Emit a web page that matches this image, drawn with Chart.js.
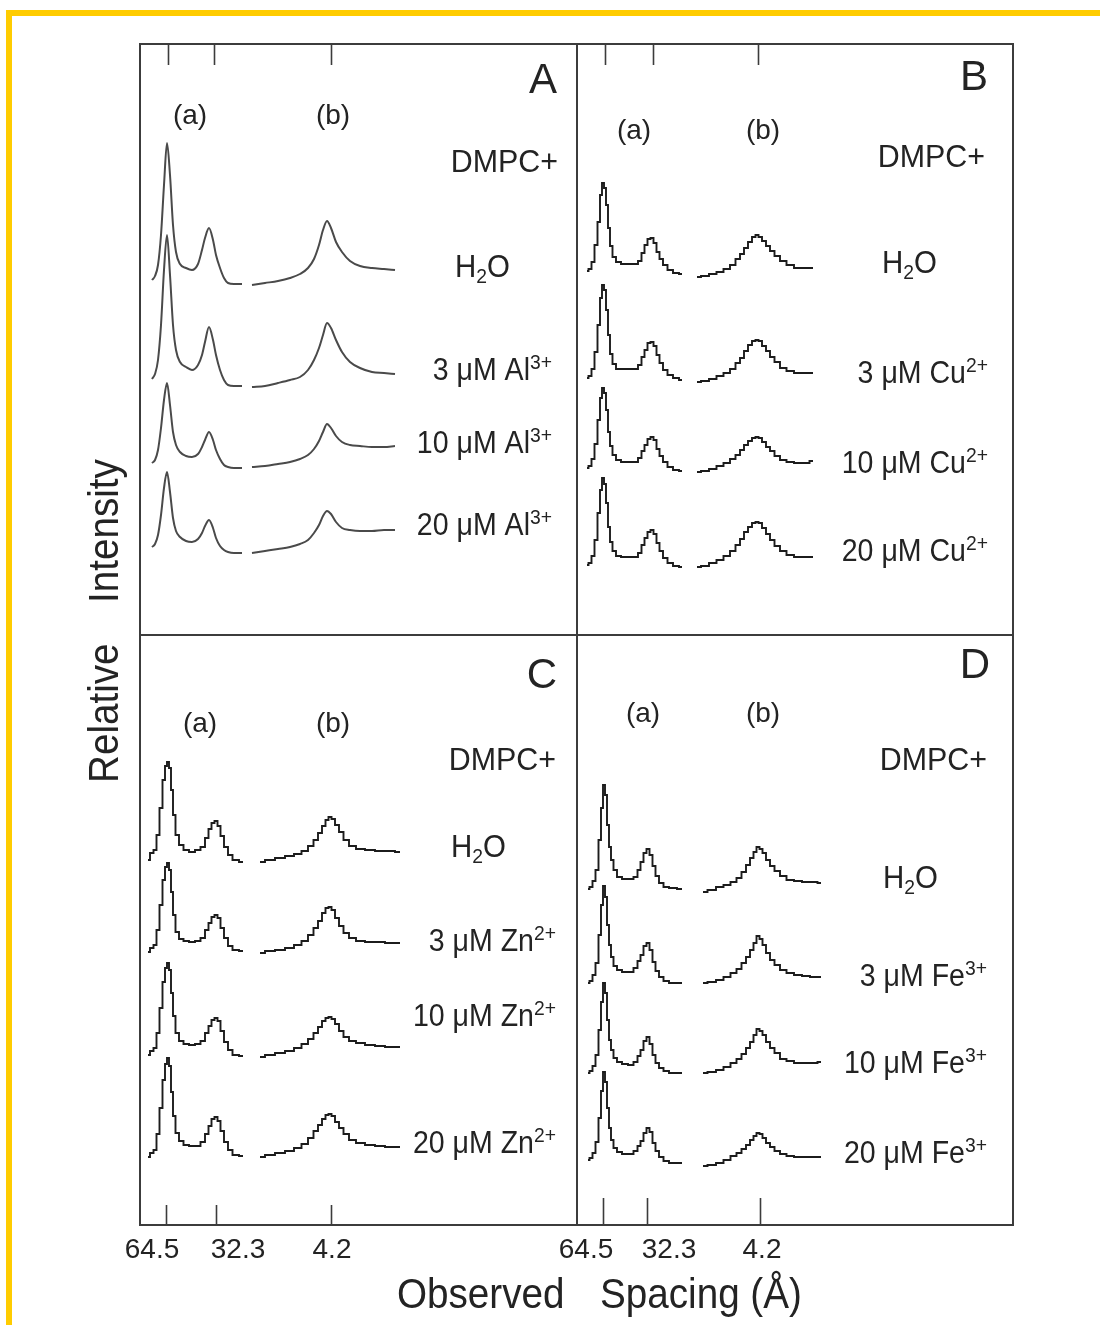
<!DOCTYPE html>
<html>
<head>
<meta charset="utf-8">
<title>DMPC + metal ions, observed spacing</title>
<script src="https://cdn.jsdelivr.net/npm/chart.js@4.4.1/dist/chart.umd.min.js"></script>
<style>
  html, body { margin: 0; background: #fff; }
  canvas { display: block; }
</style>
</head>
<body>
<canvas id="fig" width="1100" height="1325"></canvas>
<script>
// detector channel (x) and counts (y); null = gap between SAXS and WAXS part
const xA = [12, 15, 18, 21, 24, 27, 30, 33, 36, 40, 46, 52, 58, 62, 65, 69, 73, 76, 80, 84, 88, 94, 102,
  107,
  112, 125, 138, 150, 160, 168, 174, 179, 183, 187, 191, 196, 202, 210, 220, 232, 244, 255];
const yA_h2o = [355, 359, 370, 400, 450, 492, 460, 410, 383, 371, 367, 365, 371, 385, 397, 407, 395, 380, 367, 357, 352, 351, 351,
  null,
  350, 352, 354, 357, 361, 367, 376, 390, 405, 414, 407, 393, 383, 374, 369, 367, 366, 365];
const yA_3 = [256, 261, 275, 310, 365, 400, 360, 310, 285, 273, 268, 265, 270, 280, 293, 308, 295, 280, 265, 255, 250, 249, 249,
  null,
  248, 249, 252, 255, 258, 265, 275, 287, 300, 312, 307, 295, 283, 273, 267, 263, 262, 261];
const yA_10 = [172, 175, 185, 207, 235, 252, 230, 203, 190, 183, 179, 178, 181, 188, 195, 203, 195, 185, 176, 170, 168, 167, 167,
  null,
  168, 169, 171, 173, 176, 180, 186, 194, 203, 211, 207, 199, 193, 190, 189, 188, 188, 189];
const yA_20 = [88, 91, 100, 120, 147, 163, 143, 117, 104, 98, 94, 93, 96, 102, 109, 115, 107, 97, 89, 85, 83, 82, 82,
  null,
  82, 84, 86, 88, 91, 95, 102, 110, 119, 124, 121, 113, 107, 105, 104, 104, 105, 105];

const xB = [10, 13, 16, 19, 22, 24, 26, 28, 30, 32, 34, 37, 41, 47, 53, 59, 63, 66, 69, 72, 75, 78, 81, 84, 88, 93, 99, 105,
  112,
  120, 128, 136, 143, 150, 156, 161, 165, 169, 173, 177, 180, 183, 187, 191, 195, 200, 206, 213, 221, 229, 236];
const yB_h2o = [364, 366, 373, 390, 413, 440, 452, 447, 430, 407, 389, 378, 373, 371, 371, 371, 374, 382, 390, 396, 397, 392, 383, 376, 370, 365, 362, 361,
  null,
  358, 359, 361, 363, 366, 370, 376, 381, 387, 393, 398, 400, 398, 394, 389, 384, 379, 374, 370, 367, 367, 367];
const yB_3 = [257, 259, 266, 283, 310, 337, 350, 345, 325, 300, 281, 271, 266, 266, 266, 266, 270, 278, 285, 292, 293, 289, 280, 272, 265, 260, 257, 255,
  null,
  253, 254, 256, 259, 262, 266, 272, 277, 284, 290, 294, 295, 294, 289, 284, 278, 273, 267, 264, 262, 262, 262];
const yB_10 = [167, 169, 176, 191, 215, 237, 247, 242, 225, 203, 189, 180, 175, 173, 173, 173, 177, 184, 190, 196, 198, 195, 186, 179, 173, 168, 165, 164,
  null,
  163, 164, 166, 169, 172, 176, 180, 185, 190, 194, 197, 198, 197, 193, 188, 184, 179, 175, 173, 172, 172, 174];
const yB_20 = [70, 72, 79, 95, 122, 145, 157, 151, 132, 108, 93, 84, 79, 78, 78, 78, 82, 90, 97, 103, 105, 101, 92, 84, 77, 72, 69, 68,
  null,
  68, 69, 72, 75, 79, 84, 90, 96, 103, 108, 112, 113, 112, 107, 101, 95, 89, 84, 80, 78, 78, 78];

const xC = [8, 12, 15, 18, 21, 24, 26, 28, 30, 32, 34, 37, 41, 46, 52, 58, 63, 67, 70, 73, 76, 79, 82, 86, 90, 95, 103,
  111,
  120, 130, 140, 150, 158, 165, 171, 176, 180, 184, 187, 190, 193, 197, 201, 206, 212, 220, 230, 240, 250, 260];
const yC_h2o = [365, 372, 375, 390, 417, 445, 459, 463, 457, 435, 410, 390, 380, 375, 373, 375, 378, 387, 396, 402, 404, 399, 389, 378, 370, 365, 363,
  null,
  363, 365, 367, 369, 371, 374, 379, 385, 392, 399, 405, 408, 406, 400, 393, 385, 379, 376, 375, 374, 374, 373];
const yC_3 = [273, 277, 280, 295, 320, 345, 358, 362, 355, 333, 310, 293, 286, 284, 283, 284, 287, 295, 302, 308, 310, 307, 297, 287, 279, 275, 274,
  null,
  272, 274, 275, 277, 280, 284, 290, 297, 304, 312, 317, 318, 315, 307, 299, 292, 287, 284, 283, 283, 282, 282];
const yC_10 = [170, 174, 177, 192, 217, 243, 257, 262, 255, 232, 209, 192, 184, 181, 180, 181, 184, 192, 199, 205, 207, 204, 194, 183, 175, 170, 169,
  null,
  168, 170, 172, 174, 177, 181, 186, 192, 198, 204, 207, 208, 206, 201, 194, 188, 184, 182, 180, 179, 178, 178];
const yC_20 = [68, 72, 75, 91, 117, 145, 161, 167, 159, 133, 109, 92, 84, 80, 79, 79, 83, 91, 99, 106, 108, 104, 94, 83, 75, 70, 69,
  null,
  68, 70, 72, 74, 77, 81, 87, 94, 100, 106, 110, 111, 109, 103, 97, 91, 85, 82, 80, 79, 78, 78];

const xD = [11, 14, 17, 20, 23, 25, 27, 29, 31, 33, 35, 38, 42, 48, 54, 59, 62, 65, 68, 71, 74, 77, 80, 84, 89, 95, 105,
  115,
  126, 135, 143, 150, 157, 162, 167, 171, 175, 178, 181, 184, 187, 191, 195, 200, 206, 213, 221, 229, 237, 244];
const yD_h2o = [336, 338, 344, 355, 385, 417, 440, 430, 400, 378, 365, 355, 348, 346, 346, 348, 355, 363, 372, 376, 370, 359, 349, 342, 338, 337, 336,
  null,
  333, 335, 338, 340, 343, 347, 353, 360, 367, 373, 378, 376, 372, 365, 359, 354, 349, 345, 344, 343, 343, 342];
const yD_3 = [242, 244, 250, 262, 290, 320, 339, 328, 300, 280, 268, 259, 255, 253, 253, 257, 264, 270, 279, 282, 275, 263, 254, 248, 244, 242, 242,
  null,
  242, 243, 245, 248, 252, 256, 262, 268, 275, 282, 289, 286, 280, 272, 265, 260, 255, 252, 250, 249, 248, 248];
const yD_10 = [152, 154, 159, 170, 195, 223, 242, 232, 205, 185, 175, 167, 163, 161, 160, 163, 169, 175, 184, 188, 181, 170, 162, 157, 154, 152, 152,
  null,
  152, 153, 155, 158, 162, 166, 171, 177, 183, 190, 196, 194, 190, 183, 177, 172, 166, 164, 162, 162, 162, 163];
const yD_20 = [65, 67, 72, 83, 107, 134, 153, 143, 117, 97, 85, 77, 73, 71, 71, 74, 79, 84, 92, 97, 93, 82, 74, 68, 64, 62, 62,
  null,
  59, 60, 62, 65, 69, 72, 76, 80, 85, 89, 92, 91, 87, 82, 78, 74, 71, 69, 68, 68, 68, 68];

// axis ticks (channel) and their spacing labels
const tickLabels = ['64.5', '32.3', '4.2'];
const tickPosA = [28, 74, 191];
const tickPosB = [28, 76, 181];
const tickPosC = [26, 76, 191];
const tickPosD = [26, 70, 183];
const labelPosC = [12, 98, 192];
const labelPosD = [9, 92, 185];

const panelNames = ['A', 'B', 'C', 'D'];
const ions = ['Al', 'Cu', 'Zn', 'Fe'];
const charges = ['3+', '2+', '2+', '3+'];
const concentrations = ['3 μM', '10 μM', '20 μM'];


const PANEL_W = 437;   // channels in the left column
const PANEL_H = 590;   // counts in the bottom row
const X_MAX = 873;
const Y_MAX = 1181;
const SX = 0.92;       // the lettering is a little narrow in the print
const FONT = '"Liberation Sans", Arial, Helvetica, sans-serif';
const INK = '#232323';

// where the words sit inside each panel (px from panel left / top)
const panels = [
  { xs: xA, ys: [yA_h2o, yA_3, yA_10, yA_20], col: 0, row: 0, smooth: true,
    ticks: tickPosA, tickLen: 21, letter: [417, 49], ab: [50, 193, 80], dmpc: [418, 128], h2o: [315, 233], conc: [412, 336, 409, 491] },
  { xs: xB, ys: [yB_h2o, yB_3, yB_10, yB_20], col: 1, row: 0, smooth: false,
    ticks: tickPosB, tickLen: 21, letter: [411, 46], ab: [57, 186, 95], dmpc: [408, 123], h2o: [305, 229], conc: [411, 339, 429, 517] },
  { xs: xC, ys: [yC_h2o, yC_3, yC_10, yC_20], col: 0, row: 1, smooth: false,
    ticks: tickPosC, tickLen: 20, labels: labelPosC, letter: [417, 53], ab: [60, 193, 97], dmpc: [416, 135], h2o: [311, 222], conc: [416, 316, 391, 518] },
  { xs: xD, ys: [yD_h2o, yD_3, yD_10, yD_20], col: 1, row: 1, smooth: false,
    ticks: tickPosD, tickLen: 27, labels: labelPosD, letter: [413, 43], ab: [66, 186, 87], dmpc: [410, 135], h2o: [306, 253], conc: [410, 351, 438, 528] }
];


function buildDatasets() {

    const datasets = [];

    panels.forEach(p => {

        const ox = p.col * PANEL_W;
        const oy = p.row === 0 ? PANEL_H : 0;

        p.ys.forEach(ys => {

            datasets.push({
                data: p.xs.map((v, i) => ({ x: v + ox, y: ys[i] === null ? null : ys[i] + oy })),
                borderColor: p.smooth ? '#4a4a4a' : '#1c1c1c',
                borderWidth: p.smooth ? 2 : 1.9,
                pointRadius: 0,
                fill: false,
                spanGaps: false,
                stepped: p.smooth ? false : 'middle',
                cubicInterpolationMode: p.smooth ? 'monotone' : 'default'
            });
        });
    });

    return datasets;
}


function drawParts(ctx, parts, x, y, align, sx) {

    const s = sx || SX;
    let w = 0;
    parts.forEach(p => { ctx.font = `${p[1]}px ${FONT}`; w += ctx.measureText(p[0]).width * s; });

    let cx = align === 'right' ? x - w : align === 'center' ? x - w / 2 : x;

    parts.forEach(p => {

        ctx.font = `${p[1]}px ${FONT}`;
        const pw = ctx.measureText(p[0]).width;
        ctx.save();
        ctx.translate(cx, y + (p[2] || 0));
        ctx.scale(s, 1);
        ctx.fillText(p[0], 0, 0);
        ctx.restore();
        cx += pw * s;
    });
}


const paperPlugin = {

    id: 'paper',
    beforeDraw(chart) {

        const ctx = chart.ctx;
        ctx.save();
        ctx.fillStyle = '#ffffff';
        ctx.fillRect(0, 0, chart.width, chart.height);
        ctx.fillStyle = '#ffcc00';
        ctx.fillRect(6, 10, chart.width - 6, 6);
        ctx.fillRect(6, 10, 6, chart.height - 10);
        ctx.restore();
    }
};


const framePlugin = {

    id: 'frame',
    afterDatasetsDraw(chart) {

        const ctx = chart.ctx;
        const xs = chart.scales.x;
        const ys = chart.scales.y;
        const left = xs.getPixelForValue(0);
        const mid = xs.getPixelForValue(PANEL_W);
        const right = xs.getPixelForValue(X_MAX);
        const top = ys.getPixelForValue(Y_MAX);
        const hmid = ys.getPixelForValue(PANEL_H);
        const bottom = ys.getPixelForValue(0);

        ctx.save();
        ctx.strokeStyle = '#3c3c3c';
        ctx.lineWidth = 2;
        ctx.strokeRect(left, top, right - left, bottom - top);
        ctx.beginPath();
        ctx.moveTo(mid, top); ctx.lineTo(mid, bottom);
        ctx.moveTo(left, hmid); ctx.lineTo(right, hmid);
        ctx.stroke();

        ctx.fillStyle = INK;
        ctx.textAlign = 'left';
        ctx.textBaseline = 'alphabetic';

        panels.forEach((p, k) => {

            const ox = p.col * PANEL_W;
            const L = xs.getPixelForValue(ox);
            const T = p.row === 0 ? top : hmid;
            const B = p.row === 0 ? hmid : bottom;

            // inward ticks
            ctx.lineWidth = 1.6;
            ctx.beginPath();
            p.ticks.forEach(t => {
                const px = Math.round(xs.getPixelForValue(ox + t)) + 0.5;
                if (p.row === 0) { ctx.moveTo(px, T); ctx.lineTo(px, T + p.tickLen); }
                else { ctx.moveTo(px, B); ctx.lineTo(px, B - p.tickLen); }
            });
            ctx.stroke();

            if (p.labels) {
                p.labels.forEach((t, i) => {
                    drawParts(ctx, [[tickLabels[i], 28]], xs.getPixelForValue(ox + t), B + 33, 'center', 1);
                });
            }

            drawParts(ctx, [[panelNames[k], 42]], L + p.letter[0], T + p.letter[1], 'right', 1);
            drawParts(ctx, [['(a)', 28]], L + p.ab[0], T + p.ab[2], 'center', 1);
            drawParts(ctx, [['(b)', 28]], L + p.ab[1], T + p.ab[2], 'center', 1);
            drawParts(ctx, [['DMPC+', 32]], L + p.dmpc[0], T + p.dmpc[1], 'right', 0.95);
            drawParts(ctx, [['H', 32], ['2', 21, 6], ['O', 32]], L + p.h2o[0], T + p.h2o[1], 'left');

            concentrations.forEach((c, i) => {
                drawParts(ctx, [[`${c} ${ions[k]}`, 31], [charges[k], 21, -11]], L + p.conc[0], T + p.conc[i + 1], 'right');
            });
        });

        // axis titles
        drawParts(ctx, [['Observed', 42]], left + 257, bottom + 83, 'left');
        drawParts(ctx, [['Spacing (Å)', 42]], left + 460, bottom + 83, 'left');

        ctx.save();
        ctx.translate(left - 22, hmid + 148);
        ctx.rotate(-Math.PI / 2);
        drawParts(ctx, [['Relative', 42]], 0, 0, 'left');
        ctx.restore();

        ctx.save();
        ctx.translate(left - 22, hmid - 32);
        ctx.rotate(-Math.PI / 2);
        drawParts(ctx, [['Intensity', 42]], 0, 0, 'left');
        ctx.restore();

        ctx.restore();
    }
};


function initializeChart() {

    const ctx = document.getElementById('fig').getContext('2d');

    new Chart(ctx, {

        type: 'line',
        data: { datasets: buildDatasets() },
        options: {

            responsive: false,
            animation: false,
            devicePixelRatio: 1,
            layout: { padding: { left: 140, top: 44, right: 87, bottom: 100 } },
            plugins: { legend: { display: false }, tooltip: { enabled: false } },
            scales: {
                x: { type: 'linear', min: 0, max: X_MAX, display: false },
                y: { type: 'linear', min: 0, max: Y_MAX, display: false }
            }
        },
        plugins: [paperPlugin, framePlugin]
    });
}


window.onload = function () {

    initializeChart();
};
</script>
</body>
</html>
